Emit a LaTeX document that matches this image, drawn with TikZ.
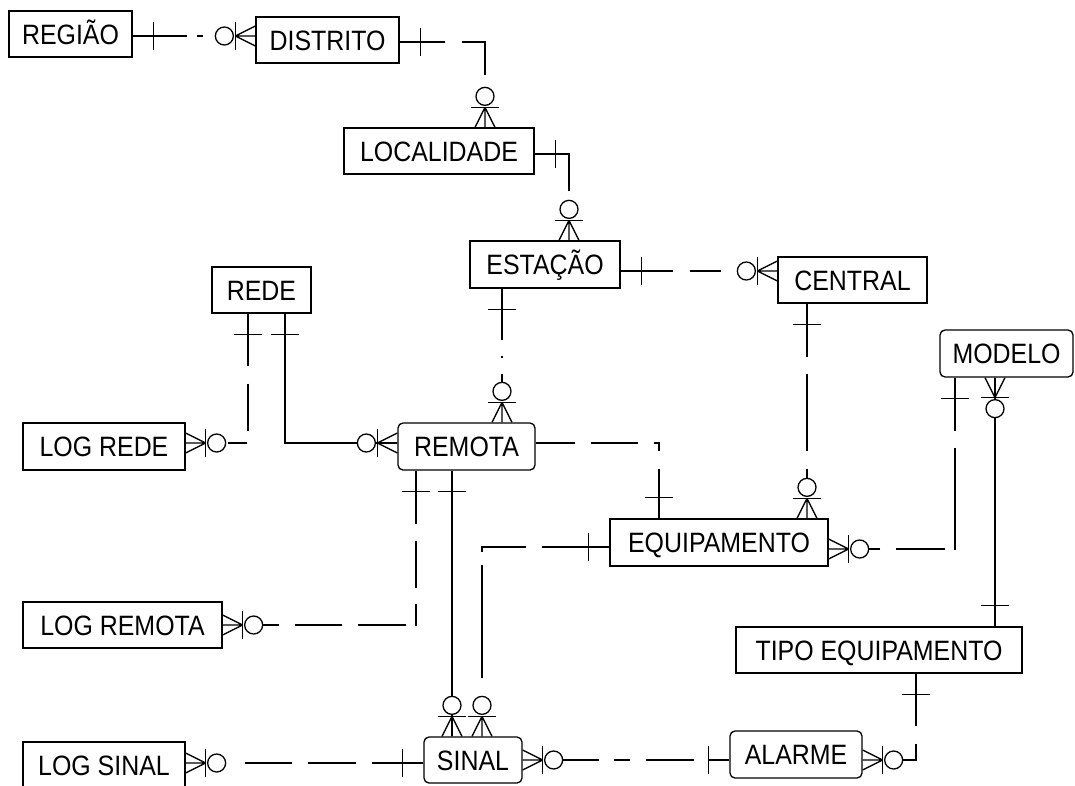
\documentclass[tikz,border=0pt]{standalone}
\usepackage{fontspec}
\usepackage{graphicx}
\setmainfont{Liberation Sans}
\usetikzlibrary{calc}
\tikzset{
  ent/.style={draw, line width=1.3pt, inner sep=0pt, text height=20pt, text depth=0pt, font=\fontsize{28}{32}\selectfont},
  rnd/.style={ent, rounded corners=5pt},
  rel/.style={line width=1.3pt},
  sym/.style={line width=1.3pt, solid},
}
\newcommand\sx[1]{\scalebox{0.89}[1]{#1}}
\newcommand\onebar[3]{%
  \path (#1) coordinate (t);
  \draw[sym] ([shift={({21*(#2)+14*(#3)},{21*(#3)-14*(#2)})}]t) -- ([shift={({21*(#2)-14*(#3)},{21*(#3)+14*(#2)})}]t);}
\newcommand\manyend[3]{%
  \path (#1) coordinate (t);
  \path ([shift={({20*(#2)},{20*(#3)})}]t) coordinate (tp);
  \draw[sym] (tp) -- ([shift={({10*(#3)},{-10*(#2)})}]t)
             (tp) -- (t)
             (tp) -- ([shift={({-10*(#3)},{10*(#2)})}]t);
  \draw[sym] ([shift={({20*(#2)+14*(#3)},{20*(#3)-14*(#2)})}]t) -- ([shift={({20*(#2)-14*(#3)},{20*(#3)+14*(#2)})}]t);
  \draw[sym, fill=white] ([shift={({31*(#2)},{31*(#3)})}]t) circle[radius=9pt];}
\begin{document}
\begin{tikzpicture}[x=1pt, y=-1pt]
\fill[white] (0,0) rectangle (1075,785);
\useasboundingbox (0,0) rectangle (1075,785);

% entities
\node[ent, minimum width=123pt, minimum height=46pt] (regiao) at (70.5,34) {\sx{REGIÃO}};
\node[ent, minimum width=143pt, minimum height=46pt] (distrito) at (327.5,40) {\sx{DISTRITO}};
\node[ent, minimum width=190pt, minimum height=46pt] (localidade) at (439,151) {\sx{LOCALIDADE}};
\node[ent, minimum width=150pt, minimum height=47pt] (estacao) at (545,264.5) {\sx{ESTAÇÃO}};
\node[ent, minimum width=149pt, minimum height=46pt] (central) at (852.5,280) {\sx{CENTRAL}};
\node[ent, minimum width=99pt, minimum height=46pt] (rede) at (261.5,290) {\sx{REDE}};
\node[rnd, minimum width=133pt, minimum height=47pt] (modelo) at (1006.5,353.5) {\sx{MODELO}};
\node[ent, minimum width=162pt, minimum height=47pt] (logrede) at (104,446.5) {\sx{LOG REDE}};
\node[rnd, minimum width=137pt, minimum height=47pt] (remota) at (466.5,446.5) {\sx{REMOTA}};
\node[ent, minimum width=218pt, minimum height=47pt] (equip) at (719,542.5) {\sx{EQUIPAMENTO}};
\node[ent, minimum width=199pt, minimum height=46pt] (logremota) at (122.5,625) {\sx{LOG REMOTA}};
\node[ent, minimum width=286pt, minimum height=46pt] (tipo) at (879,650) {\sx{TIPO EQUIPAMENTO}};
\node[ent, minimum width=162pt, minimum height=47pt] (logsinal) at (104,765.5) {\sx{LOG SINAL}};
\node[rnd, minimum width=98pt, minimum height=46pt] (sinal) at (473,760) {\sx{SINAL}};
\node[rnd, minimum width=132pt, minimum height=47pt] (alarme) at (796,754.5) {\sx{ALARME}};

% connectors
\draw[rel, dash pattern=on 54pt off 10pt on 6pt off 60pt] (regiao.east |- 0,36) -- (distrito.west |- 0,36);
\draw[rel, dash pattern=on 45pt off 17pt on 56pt off 60pt] (distrito.east |- 0,42) -| (localidade.north -| 485,0);
\draw[rel, dash pattern=on 71pt off 60pt] (localidade.east |- 0,154) -| (estacao.north -| 569,0);
\draw[rel, dash pattern=on 52pt off 17pt on 31pt off 60pt] (estacao.east |- 0,271) -- (central.west |- 0,271);
\draw[rel, dash pattern=on 51pt off 16pt on 2pt off 16pt on 10pt off 60pt] (estacao.south -| 502,0) -- (remota.north -| 502,0);
\draw[rel, dash pattern=on 53pt off 17pt on 77pt off 18pt on 11pt off 60pt] (central.south -| 807,0) -- (equip.north -| 807,0);
\draw[rel, dash pattern=on 52pt off 18pt on 47pt off 13pt on 19pt off 60pt] (rede.south -| 248,0) |- (logrede.east |- 0,443);
\draw[rel] (rede.south -| 285,0) |- (remota.west |- 0,443);
\draw[rel, dash pattern=on 39pt off 16pt on 47pt off 16pt on 13pt off 18pt on 60pt] (remota.east |- 0,443) -| (equip.north -| 659,0);
\draw[rel, dash pattern=on 53pt off 17pt on 47pt off 16pt on 22pt off 9pt on 48pt off 16pt on 47pt off 16pt on 20pt off 60pt] (remota.south -| 416,0) |- (logremota.east |- 0,625);
\draw[rel] (remota.south -| 452,0) -- (sinal.north -| 452,0);
\draw[rel, dash pattern=on 67pt off 16pt on 49pt off 13pt on 113pt off 60pt] (equip.west |- 0,547) -| (sinal.north -| 482,0);
\draw[rel, dash pattern=on 53pt off 17pt on 102pt off 9pt on 49pt off 16pt on 12pt off 60pt] (modelo.south -| 955,0) |- (equip.east |- 0,549);
\draw[rel] (modelo.south -| 995,0) -- (tipo.north -| 995,0);
\draw[rel, dash pattern=on 51pt off 16pt on 48pt off 16pt on 47pt off 60pt] (sinal.west |- 0,763) -- (logsinal.east |- 0,763);
\draw[rel, dash pattern=on 20pt off 15pt on 48pt off 16pt on 16pt off 15pt on 38pt off 60pt] (alarme.west |- 0,760) -- (sinal.east |- 0,760);
\draw[rel, dash pattern=on 52pt off 18pt on 31pt off 60pt] (tipo.south -| 916,0) |- (alarme.east |- 0,760);

% "one" ends
\onebar{regiao.east |- 0,36}{1}{0}
\onebar{distrito.east |- 0,42}{1}{0}
\onebar{localidade.east |- 0,154}{1}{0}
\onebar{estacao.east |- 0,271}{1}{0}
\onebar{estacao.south -| 502,0}{0}{1}
\onebar{central.south -| 807,0}{0}{1}
\onebar{rede.south -| 248,0}{0}{1}
\onebar{rede.south -| 285,0}{0}{1}
\onebar{equip.north -| 659,0}{0}{-1}
\onebar{remota.south -| 416,0}{0}{1}
\onebar{remota.south -| 452,0}{0}{1}
\onebar{equip.west |- 0,547}{-1}{0}
\onebar{modelo.south -| 955,0}{0}{1}
\onebar{tipo.north -| 995,0}{0}{-1}
\onebar{sinal.west |- 0,763}{-1}{0}
\onebar{alarme.west |- 0,760}{-1}{0}
\onebar{tipo.south -| 916,0}{0}{1}

% "many" ends
\manyend{distrito.west |- 0,36}{-1}{0}
\manyend{localidade.north -| 485,0}{0}{-1}
\manyend{estacao.north -| 569,0}{0}{-1}
\manyend{central.west |- 0,271}{-1}{0}
\manyend{remota.north -| 502,0}{0}{-1}
\manyend{equip.north -| 807,0}{0}{-1}
\manyend{logrede.east |- 0,443}{1}{0}
\manyend{remota.west |- 0,443}{-1}{0}
\manyend{logremota.east |- 0,625}{1}{0}
\manyend{sinal.north -| 452,0}{0}{-1}
\manyend{sinal.north -| 482,0}{0}{-1}
\manyend{equip.east |- 0,549}{1}{0}
\manyend{modelo.south -| 995,0}{0}{1}
\manyend{logsinal.east |- 0,763}{1}{0}
\manyend{sinal.east |- 0,760}{1}{0}
\manyend{alarme.east |- 0,760}{1}{0}
\end{tikzpicture}
\end{document}
